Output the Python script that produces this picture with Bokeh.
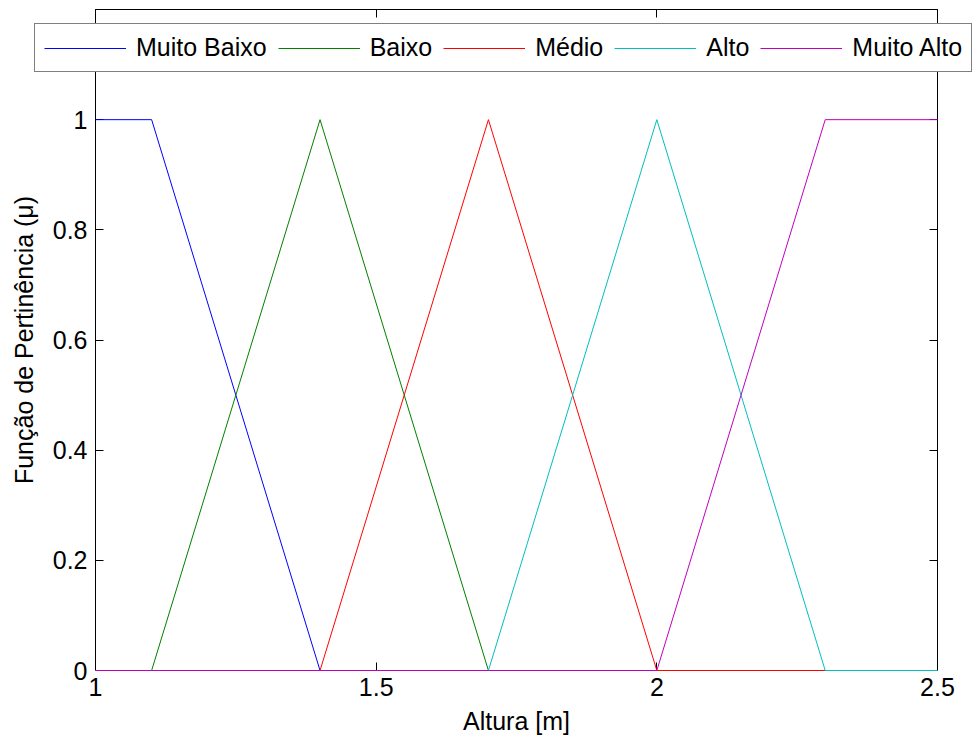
from bokeh.plotting import figure
from bokeh.models import LinearAxis, Legend, LegendItem, FixedTicker, Range1d
from bokeh.embed import file_html
from bokeh.resources import INLINE

# Data
x_pts = [1.0, 1.1, 1.4, 1.7, 2.0, 2.3, 2.5]
muito_baixo = [1, 1, 0, 0, 0, 0, 0]
baixo = [0, 0, 1, 0, 0, 0, 0]
medio = [0, 0, 0, 1, 0, 0, 0]
alto = [0, 0, 0, 0, 1, 0, 0]
muito_alto = [0, 0, 0, 0, 0, 1, 1]
series = [muito_baixo, baixo, medio, alto, muito_alto]
names = ["Muito Baixo", "Baixo", "Médio", "Alto", "Muito Alto"]
colors = ["#0000ff", "#008000", "#ff0000", "#00bfbf", "#bf00bf"]
x_ticks = [1, 1.5, 2, 2.5]
y_ticks = [0, 0.2, 0.4, 0.6, 0.8, 1]

FONT = "Liberation Sans"
FS = "25px"

p = figure(width=972, height=740, output_backend="svg", toolbar_location=None,
           x_range=Range1d(1, 2.5), y_range=Range1d(0, 1.2),
           min_border_left=95, min_border_right=35, min_border_top=9, min_border_bottom=70)
p.background_fill_color = "white"
p.border_fill_color = "white"
p.outline_line_color = "black"
p.outline_line_width = 1
p.grid.visible = False

for ys, c in zip(series, colors):
    p.line(x_pts, ys, line_color=c, line_width=1, level="overlay")

def style_axis(ax, labels=True):
    ax.axis_line_color = "black"
    ax.major_tick_in = 8
    ax.major_tick_out = 0
    ax.minor_tick_in = 0
    ax.minor_tick_out = 0
    ax.major_tick_line_color = "black"
    ax.major_label_text_font = FONT
    ax.major_label_text_font_size = FS
    ax.major_label_text_color = "black"
    ax.axis_label_text_font = FONT
    ax.axis_label_text_font_size = FS
    ax.axis_label_text_font_style = "normal"
    ax.axis_label_text_color = "black"
    if not labels:
        ax.major_label_text_font_size = "0px"
        ax.major_label_text_alpha = 0
        ax.major_label_standoff = 0
        ax.axis_label_standoff = 0

xa = p.xaxis[0]
xa.ticker = FixedTicker(ticks=x_ticks)
xa.major_label_overrides = {1: "1", 1.5: "1.5", 2: "2", 2.5: "2.5"}
xa.axis_label = "Altura [m]"
style_axis(xa)
xa.major_label_standoff = 7
xa.axis_label_standoff = 8

ya = p.yaxis[0]
ya.ticker = FixedTicker(ticks=y_ticks)
ya.major_label_overrides = {0: "0", 0.2: "0.2", 0.4: "0.4", 0.6: "0.6", 0.8: "0.8", 1: "1"}
ya.axis_label = "Função de Pertinência (μ)"
style_axis(ya)
ya.major_label_standoff = 8
ya.axis_label_standoff = 12

top = LinearAxis(ticker=FixedTicker(ticks=x_ticks))
style_axis(top, labels=False)
p.add_layout(top, "above")
right = LinearAxis(ticker=FixedTicker(ticks=y_ticks))
style_axis(right, labels=False)
p.add_layout(right, "right")

# Legend drawn in an overlaid, transparent strip so it can extend beyond the axes box
lf = figure(width=939, height=50, output_backend="svg", toolbar_location=None,
            x_range=Range1d(10, 11), y_range=Range1d(10, 11),
            min_border=0, margin=(22 - 740, 0, 0, 33))
lf.axis.visible = False
lf.grid.visible = False
lf.outline_line_color = None
lf.background_fill_alpha = 0
lf.border_fill_alpha = 0
lf_renderers = [lf.line(x_pts, ys, line_color=c, line_width=1) for ys, c in zip(series, colors)]

legend = Legend(items=[LegendItem(label=n, renderers=[r]) for n, r in zip(names, lf_renderers)],
                orientation="horizontal", location="top_left")
legend.label_text_font = FONT
legend.label_text_font_size = FS
legend.label_text_color = "black"
legend.border_line_color = "black"
legend.border_line_width = 1
legend.background_fill_color = "white"
legend.background_fill_alpha = 1
legend.glyph_width = 82
legend.glyph_height = 26
legend.label_height = 26
legend.label_standoff = 10
legend.spacing = 11
legend.padding = 9
legend.margin = 1
lf.add_layout(legend, "center")

open("out.html", "w").write(file_html((p, lf), INLINE))
